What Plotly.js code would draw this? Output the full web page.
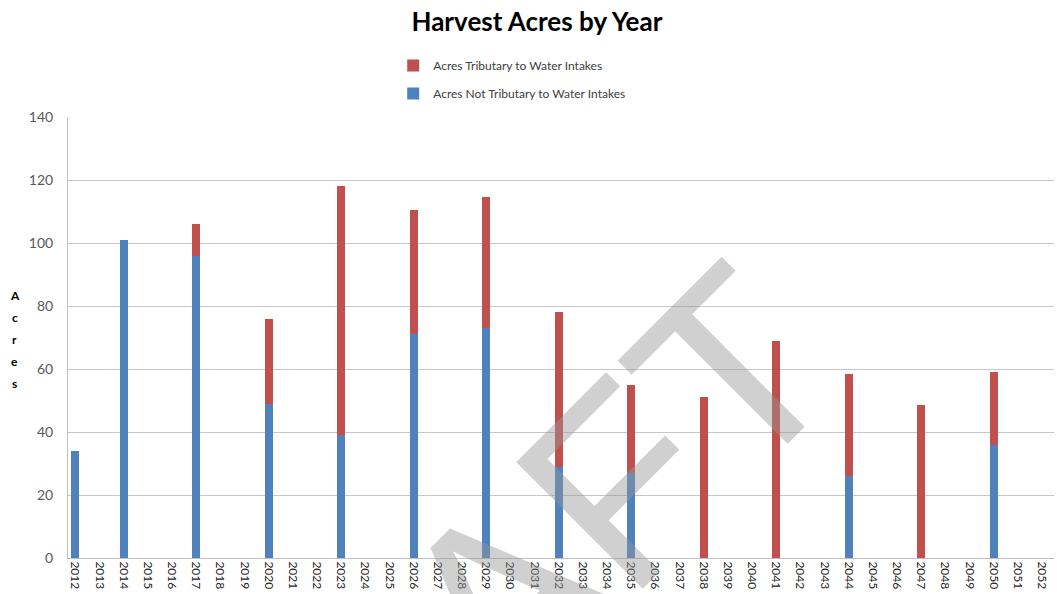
<!DOCTYPE html>
<html>
<head>
<meta charset="utf-8">
<script src="https://cdn.plot.ly/plotly-3.0.1.min.js"></script>
<style>html,body{margin:0;padding:0;background:#fff;}#chart{width:1057px;height:594px;}</style>
</head>
<body>
<div id="chart"></div>
<script>
const years = ["2012","2013","2014","2015","2016","2017","2018","2019","2020","2021","2022","2023","2024","2025","2026","2027","2028","2029","2030","2031","2032","2033","2034","2035","2036","2037","2038","2039","2040","2041","2042","2043","2044","2045","2046","2047","2048","2049","2050","2051","2052"];
const notTributary = [34,0,101,0,0,96,0,0,49,0,0,39,0,0,71,0,0,73,0,0,29,0,0,27,0,0,0,0,0,0,0,0,26,0,0,0,0,0,36,0,0];
const tributary    = [0,0,0,0,0,10,0,0,27,0,0,79,0,0,39.5,0,0,41.5,0,0,49,0,0,28,0,0,51,0,0,69,0,0,32.5,0,0,48.5,0,0,23,0,0];
const seriesNames = ["Acres Not Tributary to Water Intakes","Acres Tributary to Water Intakes"];
const yTitleLetters = "Acres".split("");

const font = "Lato, 'Open Sans', 'Liberation Sans', sans-serif";

const traces = [
  {type:"bar", x:years, y:notTributary, name:seriesNames[0], marker:{color:"#4f81bd"}, legendgroup:"b", legendrank:2},
  {type:"bar", x:years, y:tributary, name:seriesNames[1], marker:{color:"#c0504d"}, legendgroup:"a", legendrank:1}
];

const annotations = yTitleLetters.map((ch,i)=>({
  text: ch, xref:"paper", yref:"paper", x:-0.054, y:0.596 - i*0.05, xanchor:"center", yanchor:"middle",
  showarrow:false, font:{family:font, size:12, color:"#000", weight:"bold"}
}));
annotations.push({
  text:"DRAFT", xref:"paper", yref:"paper", x:0.42, y:-0.145, xanchor:"center", yanchor:"middle",
  textangle:-45, showarrow:false, font:{family:"'Liberation Sans', Arial, sans-serif", size:260, color:"rgba(150,150,150,0.45)"}
});

const layout = {
  width:1057, height:594,
  margin:{l:68, r:3, t:117, b:36, autoexpand:false},
  paper_bgcolor:"#fff", plot_bgcolor:"#fff",
  barmode:"stack", bargap:0.67,
  title:{text:"<b>Harvest Acres by Year</b>", xref:"container", yref:"container", x:0.508, y:0.963, xanchor:"center", yanchor:"middle",
         font:{family:font, size:26, color:"#000"}},
  showlegend:true,
  legend:{xref:"container", yref:"container", x:0.372, y:0.914, xanchor:"left", yanchor:"top",
          font:{family:font, size:12, color:"#404040"}, tracegroupgap:9, traceorder:"grouped", itemwidth:30},
  xaxis:{type:"category", range:[-0.3,40.5], tickmode:"array", tickvals:years, ticktext:years, tickangle:90, showgrid:false, showline:true, linecolor:"#bfbfbf",
         ticks:"", automargin:false, tickfont:{family:font, size:12, color:"#262626"}, fixedrange:true},
  yaxis:{range:[0,140], dtick:20, showgrid:true, gridcolor:"#c6c6c6", showline:true, linecolor:"#bfbfbf",
         zeroline:false, ticks:"outside", ticklen:5, tickcolor:"#ffffff", ticklabelstandoff:6, automargin:false,
         tickfont:{family:font, size:14, color:"#595959"}},
  annotations:annotations
};

Plotly.newPlot("chart", traces, layout, {displayModeBar:false, staticPlot:true});
</script>
</body>
</html>
